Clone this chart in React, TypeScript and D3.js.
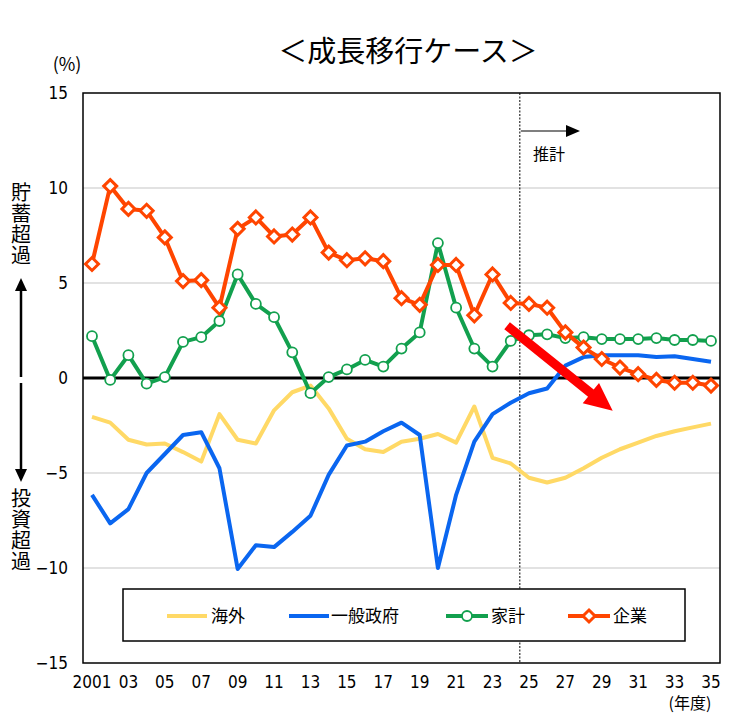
import * as d3 from 'd3';

// fiscal years 2001..2035
const years = [
  2001, 2002, 2003, 2004, 2005, 2006, 2007, 2008, 2009, 2010,
  2011, 2012, 2013, 2014, 2015, 2016, 2017, 2018, 2019, 2020,
  2021, 2022, 2023, 2024, 2025, 2026, 2027, 2028, 2029, 2030,
  2031, 2032, 2033, 2034, 2035,
];
const tickYears = [2001, 2003, 2005, 2007, 2009, 2011, 2013, 2015, 2017, 2019, 2021, 2023, 2025, 2027, 2029, 2031, 2033, 2035];
const tickLabels = ['2001', '03', '05', '07', '09', '11', '13', '15', '17', '19', '21', '23', '25', '27', '29', '31', '33', '35'];
const yTicks = [15, 10, 5, 0, -5, -10, -15];

// 海外
const kaigai = [-2.05, -2.35, -3.25, -3.5, -3.45, -3.9, -4.4, -1.9, -3.25, -3.45, -1.7, -0.75, -0.4, -1.6, -3.2, -3.75, -3.9, -3.35, -3.2, -2.95, -3.4, -1.5, -4.2, -4.5, -5.25, -5.5, -5.25, -4.75, -4.2, -3.75, -3.4, -3.05, -2.8, -2.6, -2.4];
// 一般政府
const seifu = [-6.15, -7.65, -6.9, -5.0, -4.0, -3.0, -2.85, -4.75, -10.05, -8.8, -8.9, -8.1, -7.25, -5.1, -3.55, -3.35, -2.8, -2.35, -3.0, -10.0, -6.15, -3.35, -1.9, -1.3, -0.8, -0.55, 0.65, 1.1, 1.2, 1.2, 1.2, 1.1, 1.15, 1.0, 0.85];
// 家計
const kakei = [2.2, -0.1, 1.2, -0.3, 0.05, 1.9, 2.15, 3.0, 5.45, 3.9, 3.2, 1.35, -0.8, 0.05, 0.45, 0.95, 0.6, 1.55, 2.4, 7.1, 3.7, 1.55, 0.6, 1.95, 2.25, 2.3, 2.1, 2.15, 2.05, 2.05, 2.05, 2.1, 2.0, 2.0, 1.95];
// 企業
const kigyo = [6.0, 10.1, 8.9, 8.8, 7.4, 5.1, 5.15, 3.7, 7.85, 8.45, 7.45, 7.55, 8.45, 6.6, 6.2, 6.3, 6.15, 4.2, 3.85, 5.95, 5.95, 3.3, 5.45, 3.95, 3.9, 3.7, 2.4, 1.6, 1.0, 0.55, 0.2, -0.1, -0.25, -0.25, -0.4];

const forecastStart = 2024.5;
// trend arrow (year, %)
const trendFrom: [number, number] = [2023.8, 2.75];
const trendTo: [number, number] = [2029.6, -1.72];

const COL_KAIGAI = '#FFD966';
const COL_SEIFU = '#0A66F0';
const COL_KAKEI = '#12A04E';
const COL_KIGYO = '#FF4500';

const numFont = "'Liberation Sans Narrow', 'DejaVu Sans Condensed', 'Noto Sans CJK JP', sans-serif";
const jpFont = "'Noto Sans CJK JP', sans-serif";

const W = 736, H = 728;
const plot = { left: 83, right: 720, top: 93, bottom: 663 };

const App = () => {
  const x = d3.scaleLinear().domain([2001, 2035]).range([92, 711]);
  const y = d3.scaleLinear().domain([-15, 15]).range([plot.bottom, plot.top]);

  const line = d3.line<number>()
    .x((_, i) => x(years[i]))
    .y(d => y(d));

  const diamond = (cx: number, cy: number, r: number) =>
    `M${cx},${cy - r}L${cx + r},${cy}L${cx},${cy + r}L${cx - r},${cy}Z`;

  // big red arrow polygon
  const ax0 = x(trendFrom[0]), ay0 = y(trendFrom[1]);
  const ax1 = x(trendTo[0]), ay1 = y(trendTo[1]);
  const len = Math.hypot(ax1 - ax0, ay1 - ay0);
  const ux = (ax1 - ax0) / len, uy = (ay1 - ay0) / len;
  const px = -uy, py = ux;
  const headLen = 28, headHalf = 13, shaftHalf = 4.5;
  const bx = ax1 - ux * headLen, by = ay1 - uy * headLen;
  const arrowPts = [
    [ax0 + px * shaftHalf, ay0 + py * shaftHalf],
    [bx + px * shaftHalf, by + py * shaftHalf],
    [bx + px * headHalf, by + py * headHalf],
    [ax1, ay1],
    [bx - px * headHalf, by - py * headHalf],
    [bx - px * shaftHalf, by - py * shaftHalf],
    [ax0 - px * shaftHalf, ay0 - py * shaftHalf],
  ].map(p => p.join(',')).join(' ');

  const fx = x(forecastStart);
  const legendY = 616;

  return (
    <svg width={W} height={H} style={{ position: 'absolute', left: 0, top: 0, background: '#fff' }}>
      {/* title */}
      <text x={408} y={62} textAnchor="middle" fontFamily={jpFont} fontSize={29}>＜成長移行ケース＞</text>
      <text x={67} y={71} textAnchor="middle" fontFamily={jpFont} fontSize={18}>(%)</text>

      {/* grid */}
      {yTicks.filter(t => t !== 0 && Math.abs(t) !== 15).map(t => (
        <line key={t} x1={plot.left} x2={plot.right} y1={y(t)} y2={y(t)} stroke="#d9d9d9" strokeWidth={1.5} />
      ))}

      {/* y tick labels */}
      {yTicks.map(t => (
        <text key={t} x={68} y={y(t)} dy="0.35em" textAnchor="end" fontFamily={numFont} fontSize={17}>
          {t < 0 ? `−${Math.abs(t)}` : t}
        </text>
      ))}

      {/* x tick labels */}
      {tickYears.map((yr, i) => (
        <text key={yr} x={x(yr)} y={688} textAnchor="middle" fontFamily={numFont} fontSize={17}>{tickLabels[i]}</text>
      ))}
      <text x={690} y={709} textAnchor="middle" fontFamily={jpFont} fontSize={16}>(年度)</text>

      {/* forecast divider */}
      <line x1={fx} x2={fx} y1={plot.top} y2={plot.bottom} stroke="#000" strokeWidth={1} strokeDasharray="2,1.5" />
      <line x1={fx + 1} x2={568} y1={131} y2={131} stroke="#000" strokeWidth={1.2} />
      <path d="M566,125L580,131L566,137Z" fill="#000" />
      <text x={533} y={160} fontFamily={jpFont} fontSize={16}>推計</text>

      {/* zero line */}
      <line x1={plot.left} x2={plot.right} y1={y(0)} y2={y(0)} stroke="#000" strokeWidth={3} />

      {/* series */}
      <path d={line(kaigai) ?? ''} fill="none" stroke={COL_KAIGAI} strokeWidth={4} strokeLinejoin="round" />
      <path d={line(seifu) ?? ''} fill="none" stroke={COL_SEIFU} strokeWidth={4} strokeLinejoin="round" />
      <path d={line(kakei) ?? ''} fill="none" stroke={COL_KAKEI} strokeWidth={4} strokeLinejoin="round" />
      {kakei.map((v, i) => (
        <circle key={i} cx={x(years[i])} cy={y(v)} r={5} fill="#fff" stroke={COL_KAKEI} strokeWidth={1.8} />
      ))}
      <path d={line(kigyo) ?? ''} fill="none" stroke={COL_KIGYO} strokeWidth={4} strokeLinejoin="round" />
      {kigyo.map((v, i) => (
        <path key={i} d={diamond(x(years[i]), y(v), 6.5)} fill="#fff" stroke={COL_KIGYO} strokeWidth={3} />
      ))}

      {/* trend arrow */}
      <polygon points={arrowPts} fill="#FF0000" />

      {/* plot frame */}
      <rect x={plot.left} y={plot.top} width={plot.right - plot.left} height={plot.bottom - plot.top}
        fill="none" stroke="#000" strokeWidth={1.5} />

      {/* legend */}
      <rect x={123} y={589} width={562} height={52} fill="#fff" stroke="#000" strokeWidth={1.5} />
      <line x1={167} x2={207} y1={legendY} y2={legendY} stroke={COL_KAIGAI} strokeWidth={4} />
      <text x={211} y={legendY} dy="0.36em" fontFamily={jpFont} fontSize={17}>海外</text>
      <line x1={289} x2={329} y1={legendY} y2={legendY} stroke={COL_SEIFU} strokeWidth={4} />
      <text x={331} y={legendY} dy="0.36em" fontFamily={jpFont} fontSize={17}>一般政府</text>
      <line x1={446} x2={488} y1={legendY} y2={legendY} stroke={COL_KAKEI} strokeWidth={4} />
      <circle cx={467} cy={legendY} r={5} fill="#fff" stroke={COL_KAKEI} strokeWidth={1.8} />
      <text x={491} y={legendY} dy="0.36em" fontFamily={jpFont} fontSize={17}>家計</text>
      <line x1={568} x2={610} y1={legendY} y2={legendY} stroke={COL_KIGYO} strokeWidth={4} />
      <path d={diamond(589, legendY, 6)} fill="#fff" stroke={COL_KIGYO} strokeWidth={3} />
      <text x={613} y={legendY} dy="0.36em" fontFamily={jpFont} fontSize={17}>企業</text>

      {/* side labels */}
      <text x={21} y={182} fontFamily={jpFont} fontSize={20} letterSpacing={1}
        style={{ writingMode: 'vertical-rl' }}>貯蓄超過</text>
      <line x1={21} x2={21} y1={377} y2={288} stroke="#000" strokeWidth={2.5} />
      <path d="M15,291L21,278L27,291Z" fill="#000" />
      <line x1={21} x2={21} y1={383} y2={471} stroke="#000" strokeWidth={2.5} />
      <path d="M15,469L21,482L27,469Z" fill="#000" />
      <text x={21} y={488} fontFamily={jpFont} fontSize={20} letterSpacing={1}
        style={{ writingMode: 'vertical-rl' }}>投資超過</text>
    </svg>
  );
};

export default App;
